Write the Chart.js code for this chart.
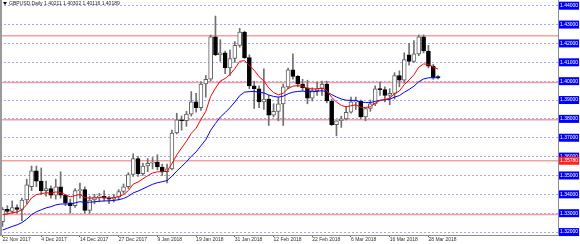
<!DOCTYPE html>
<html>
<head>
<meta charset="utf-8">
<script src="https://cdn.jsdelivr.net/npm/chart.js@4.4.0/dist/chart.umd.min.js"></script>
<style>
  html, body { margin: 0; padding: 0; background: #fff; }
  #wrap { width: 580px; height: 244px; }
</style>
</head>
<body>
<div id="wrap"><canvas id="chart" width="580" height="244"></canvas></div>
<script>
// date labels, one every 8 bars
const tickLabels = ['22 Nov 2017', '4 Dec 2017', '14 Dec 2017', '27 Dec 2017', '9 Jan 2018', '19 Jan 2018',
  '31 Jan 2018', '12 Feb 2018', '22 Feb 2018', '6 Mar 2018', '16 Mar 2018', '28 Mar 2018'];

// daily OHLC, 22 Nov 2017 .. 30 Mar 2018
const opens = [1.3255, 1.3320, 1.3310, 1.3330, 1.3320, 1.3370, 1.3440, 1.3525, 1.3470, 1.3420,
  1.3430, 1.3395, 1.3440, 1.3395, 1.3355, 1.3340, 1.3420, 1.3425, 1.3315, 1.3370,
  1.3385, 1.3390, 1.3380, 1.3375, 1.3385, 1.3415, 1.3440, 1.3505, 1.3590, 1.3510,
  1.3550, 1.3565, 1.3570, 1.3545, 1.3520, 1.3535, 1.3725, 1.3795, 1.3790, 1.3825,
  1.3890, 1.3860, 1.3985, 1.4010, 1.4235, 1.4140, 1.4150, 1.4070, 1.4120, 1.4190,
  1.4260, 1.4125, 1.3975, 1.3960, 1.3890, 1.3905, 1.3820, 1.3840, 1.3880, 1.3970,
  1.4060, 1.4025, 1.3985, 1.3965, 1.3910, 1.3950, 1.3960, 1.3985, 1.3895, 1.3770,
  1.3790, 1.3800, 1.3835, 1.3890, 1.3895, 1.3810, 1.3855, 1.3880, 1.3960, 1.3955,
  1.3925, 1.3935, 1.4030, 1.4005, 1.4140, 1.4105, 1.4145, 1.4235, 1.4160, 1.4080,
  1.4021];
const highs = [1.3330, 1.3340, 1.3365, 1.3345, 1.3380, 1.3480, 1.3550, 1.3550, 1.3540, 1.3470,
  1.3445, 1.3480, 1.3520, 1.3400, 1.3375, 1.3430, 1.3460, 1.3440, 1.3390, 1.3400,
  1.3405, 1.3420, 1.3390, 1.3400, 1.3425, 1.3455, 1.3515, 1.3615, 1.3600, 1.3565,
  1.3590, 1.3595, 1.3610, 1.3560, 1.3560, 1.3740, 1.3830, 1.3815, 1.3840, 1.3945,
  1.3935, 1.3995, 1.4030, 1.4245, 1.4345, 1.4220, 1.4160, 1.4165, 1.4210, 1.4280,
  1.4265, 1.4140, 1.4000, 1.3975, 1.4065, 1.3925, 1.3880, 1.3915, 1.3985, 1.4070,
  1.4145, 1.4030, 1.4010, 1.4005, 1.3965, 1.3995, 1.4000, 1.4000, 1.3905, 1.3790,
  1.3815, 1.3865, 1.3915, 1.3915, 1.3900, 1.3860, 1.3900, 1.3975, 1.3995, 1.3970,
  1.3960, 1.4045, 1.4055, 1.4150, 1.4200, 1.4215, 1.4245, 1.4245, 1.4190, 1.4090,
  1.4030];
const lows = [1.3230, 1.3295, 1.3300, 1.3300, 1.3260, 1.3350, 1.3420, 1.3440, 1.3400, 1.3390,
  1.3380, 1.3375, 1.3380, 1.3340, 1.3300, 1.3330, 1.3380, 1.3300, 1.3300, 1.3350,
  1.3360, 1.3365, 1.3350, 1.3360, 1.3370, 1.3405, 1.3430, 1.3495, 1.3495, 1.3500,
  1.3520, 1.3535, 1.3530, 1.3500, 1.3460, 1.3530, 1.3720, 1.3740, 1.3760, 1.3815,
  1.3835, 1.3845, 1.3915, 1.4000, 1.4135, 1.4105, 1.4040, 1.4030, 1.4100, 1.4180,
  1.4120, 1.3960, 1.3855, 1.3860, 1.3850, 1.3765, 1.3810, 1.3790, 1.3765, 1.3960,
  1.4010, 1.3970, 1.3950, 1.3880, 1.3895, 1.3925, 1.3925, 1.3885, 1.3765, 1.3710,
  1.3755, 1.3795, 1.3830, 1.3850, 1.3800, 1.3790, 1.3840, 1.3870, 1.3925, 1.3890,
  1.3875, 1.3905, 1.3970, 1.3990, 1.4085, 1.4100, 1.4135, 1.4150, 1.4070, 1.4010,
  1.4012];
const closes = [1.3320, 1.3310, 1.3330, 1.3320, 1.3370, 1.3450, 1.3525, 1.3470, 1.3420, 1.3430,
  1.3395, 1.3440, 1.3395, 1.3355, 1.3340, 1.3420, 1.3425, 1.3315, 1.3370, 1.3385,
  1.3390, 1.3380, 1.3375, 1.3385, 1.3415, 1.3440, 1.3505, 1.3590, 1.3510, 1.3550,
  1.3565, 1.3570, 1.3545, 1.3520, 1.3535, 1.3725, 1.3795, 1.3790, 1.3825, 1.3890,
  1.3860, 1.3985, 1.4010, 1.4235, 1.4140, 1.4150, 1.4070, 1.4120, 1.4190, 1.4260,
  1.4125, 1.3975, 1.3960, 1.3890, 1.3905, 1.3820, 1.3840, 1.3880, 1.3970, 1.4060,
  1.4025, 1.3985, 1.3965, 1.3910, 1.3950, 1.3960, 1.3985, 1.3895, 1.3770, 1.3790,
  1.3800, 1.3835, 1.3890, 1.3895, 1.3810, 1.3855, 1.3880, 1.3960, 1.3955, 1.3925,
  1.3935, 1.4030, 1.4005, 1.4115, 1.4105, 1.4145, 1.4235, 1.4160, 1.4080, 1.4020,
  1.4019];

// horizontal levels drawn on the chart
const levels = [1.4241, 1.3993, 1.3796, 1.3578, 1.3293];
const markedLevel = 1.3578;
const lastPrice = 1.40189;
const header = 'GBPUSD,Daily 1.40211 1.40302 1.40116 1.40189';

// moving averages (seeded with the value seen at the left edge)
function ema(vals, period, seed) {
  const k = 2 / (period + 1);
  let prev = seed;
  return vals.map(v => (prev = prev + k * (v - prev)));
}
const fastMA = ema(closes, 9, 1.3285);
const slowMA = ema(closes, 21, 1.3200);

const idx = closes.map((c, i) => i);
const bull = i => closes[i] >= opens[i];

const yMin = 1.318443, yMax = 1.440377;
const xMin = -0.52, xMax = 114.77;

const framePlugin = {
  id: 'frame',
  beforeDraw(chart) {
    const c = chart.ctx;
    c.save();
    c.fillStyle = '#fff';
    c.fillRect(0, 0, chart.width, chart.height);
    c.restore();
  },
  afterDraw(chart) {
    const c = chart.ctx;
    const a = chart.chartArea;
    c.save();
    c.strokeStyle = '#8c8c8c';
    c.lineWidth = 1;
    c.beginPath();
    c.moveTo(a.right + 0.5, 0);
    c.lineTo(a.right + 0.5, a.bottom + 0.5);
    c.lineTo(0, a.bottom + 0.5);
    c.stroke();
    c.fillStyle = '#9a9a9a';
    c.fillRect(0, 0, 2, a.bottom);
    // header
    c.fillStyle = '#000';
    c.beginPath();
    c.moveTo(3, 2); c.lineTo(7, 2); c.lineTo(5, 5); c.closePath();
    c.fill();
    c.font = '5px "Liberation Sans"';
    c.fillStyle = '#222';
    c.textBaseline = 'middle';
    c.fillText(header, 9, 4);
    c.restore();
  }
};

new Chart(document.getElementById('chart'), {
  data: {
    datasets: [
      {
        type: 'line', label: 'fast', order: 0,
        data: idx.map(i => ({ x: i, y: fastMA[i] })),
        borderColor: '#ff0000', borderWidth: 1, pointRadius: 0, tension: 0
      },
      {
        type: 'line', label: 'slow', order: 0,
        data: idx.map(i => ({ x: i, y: slowMA[i] })),
        borderColor: '#0000ff', borderWidth: 1, pointRadius: 0, tension: 0
      },
      {
        type: 'bar', label: 'body', order: 1, grouped: false,
        data: idx.map(i => ({ x: i, y: [opens[i], closes[i]] })),
        backgroundColor: ctx => bull(ctx.dataIndex) ? '#ffffff' : '#000000',
        borderColor: ctx => bull(ctx.dataIndex) ? '#606060' : '#000000',
        borderWidth: 1, borderSkipped: false, barThickness: 4, minBarLength: 1
      },
      {
        type: 'bar', label: 'wick', order: 2, grouped: false,
        data: idx.map(i => ({ x: i, y: [lows[i], highs[i]] })),
        backgroundColor: '#707070', borderWidth: 0, barThickness: 1
      },
      ...levels.map(v => ({
        type: 'line', label: 'level', order: 3,
        data: [{ x: xMin, y: v }, { x: xMax, y: v }],
        borderColor: '#f4a0a0', borderWidth: 1.5, pointRadius: 0
      }))
    ]
  },
  options: {
    responsive: false,
    animation: false,
    devicePixelRatio: 1,
    layout: { padding: 0 },
    plugins: { legend: { display: false }, tooltip: { enabled: false } },
    scales: {
      x: {
        type: 'linear', position: 'bottom', min: xMin, max: xMax, offset: false,
        afterBuildTicks: s => { s.ticks = tickLabels.map((t, k) => ({ value: k * 8 })); },
        afterFit: s => { s.height = 9; },
        grid: { drawOnChartArea: false, drawTicks: true, tickLength: 2, color: '#666', offset: false },
        border: { display: false },
        ticks: {
          autoSkip: false, maxRotation: 0, align: 'start', padding: 0,
          font: { size: 5, family: 'Liberation Sans' }, color: '#333',
          callback: v => tickLabels[Math.round(v / 8)]
        }
      },
      y: {
        type: 'linear', position: 'right', min: yMin, max: yMax,
        afterBuildTicks: s => {
          const t = [];
          for (let k = 0; k <= 24; k++) t.push({ value: 1.32 + k * 0.005 });
          t.push({ value: lastPrice }, { value: markedLevel });
          s.ticks = t;
        },
        afterFit: s => { s.width = 22; },
        border: { display: false, dash: [2, 2] },
        grid: {
          drawTicks: false,
          color: ctx => {
            const v = ctx.tick ? ctx.tick.value : 0;
            const k = Math.round((v - 1.32) / 0.005);
            return (Math.abs(v - (1.32 + k * 0.005)) < 1e-7 && k % 2 === 0) ? '#9fa6ff' : 'rgba(0,0,0,0)';
          }
        },
        ticks: {
          padding: 2, color: '#fff',
          font: { size: 5, family: 'Liberation Sans' },
          showLabelBackdrop: true,
          backdropPadding: { top: 1, bottom: 1, left: 1, right: 1 },
          backdropColor: ctx => {
            const v = ctx.tick.value;
            if (Math.abs(v - markedLevel) < 1e-7) return '#ff2020';
            if (Math.abs(v - lastPrice) < 1e-7) return '#000';
            const k = Math.round((v - 1.32) / 0.005);
            return k % 2 === 0 ? '#0000ff' : '#000';
          },
          callback: v => v.toFixed(5)
        }
      }
    }
  },
  plugins: [framePlugin]
});
</script>
</body>
</html>
